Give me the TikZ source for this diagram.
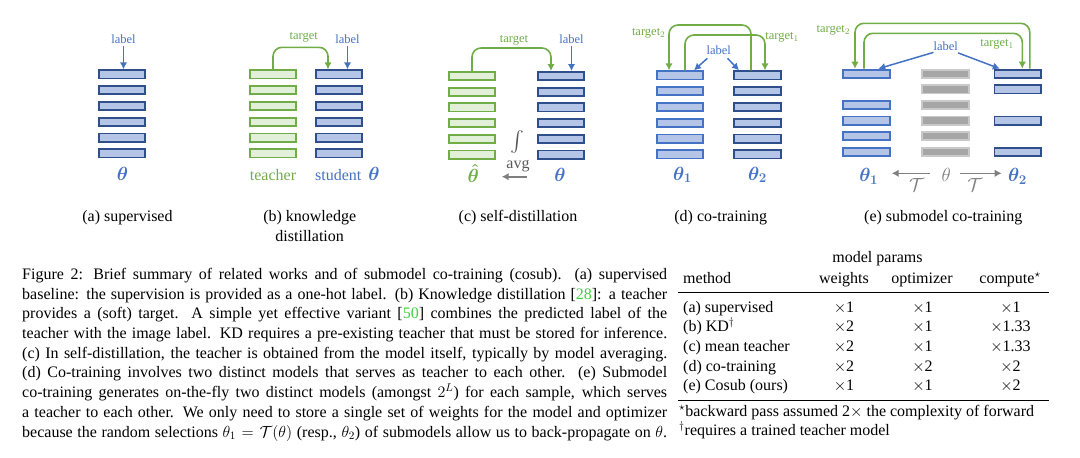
\RequirePackage{fix-cm}
\documentclass[tikz,border=0pt]{standalone}
\usepackage{amsmath}
\usepackage{fontspec}
\setmainfont{Liberation Serif}
\usetikzlibrary{arrows.meta}
\definecolor{bfill}{HTML}{B4C5E8}
\definecolor{navy}{HTML}{2F4E8C}
\definecolor{mblue}{HTML}{4472C4}
\definecolor{gline}{HTML}{70AD47}
\definecolor{gfill}{HTML}{E2F0D9}
\definecolor{grayf}{HTML}{A6A6A6}
\definecolor{grayb}{HTML}{C9C9C9}
\definecolor{garrow}{HTML}{7F7F7F}
\definecolor{dgray}{HTML}{595959}
\definecolor{citeg}{HTML}{3DD13D}
\begin{document}
\begin{tikzpicture}[x=1pt,y=-1pt,
  lay/.style={rectangle,minimum width=46.7pt,minimum height=8.2pt,inner sep=0pt,line width=1.8pt},
  navylay/.style={lay,draw=navy,fill=bfill},
  bluelay/.style={lay,draw=mblue,fill=bfill},
  greenlay/.style={lay,draw=gline,fill=gfill},
  graylay/.style={lay,draw=grayb,fill=grayf},
  arrtip/.style={-{Latex[length=7pt,width=7.5pt]}},
  barr/.style={arrtip,line width=1.5pt,draw=mblue},
  garr/.style={arrtip,line width=1.6pt,draw=gline,rounded corners=9pt},
  grarr/.style={arrtip,line width=1.6pt,draw=garrow},
  smalltxt/.style={inner sep=0pt,font=\fontsize{12.5}{14}\selectfont},
  lbl/.style={smalltxt,text=mblue},
  tgt/.style={smalltxt,text=gline},
  bigmath/.style={inner sep=0pt,font=\fontsize{19}{22}\selectfont},
  bodytxt/.style={inner sep=0pt,font=\fontsize{16}{19.7}\selectfont},
]
\useasboundingbox (0,0) rectangle (1080,458);

% ---------- (a) supervised
\foreach \k in {0,...,5} \node[navylay] (a\k) at (122,{74.3+15.8*\k}) {};
\node[lbl,anchor=base] (al) at (123.5,43) {label};
\draw[barr] ([yshift=-2.5pt]al.south) -- (al.south |- a0.north);
\node[bigmath,text=mblue,anchor=base] (ath) at (122.5,180) {$\boldsymbol{\theta}$};
\node[bodytxt,anchor=base] (acap) at (127.5,221.5) {(a) supervised};

% ---------- (b) knowledge distillation
\foreach \k in {0,...,5} {
  \node[greenlay] (bt\k) at (273,{74.3+15.8*\k}) {};
  \node[navylay] (bs\k) at (339,{74.3+15.8*\k}) {};
}
\draw[garr] (bt0.north) -- ++(0,-22) -| ([xshift=-11pt]bs0.north);
\node[tgt,anchor=base] (btg) at (303.7,39.6) {target};
\node[lbl,anchor=base] (bl) at (347.5,43) {label};
\draw[barr] ([yshift=-2.5pt]bl.south) -- (bl.south |- bs0.north);
\node[bodytxt,text=gline,anchor=base] (bteach) at (273,180) {teacher};
\node[bodytxt,text=mblue,anchor=base] (bstud) at (338.3,180) {student};
\node[bigmath,text=mblue,anchor=base] (bth) at (374,180) {$\boldsymbol{\theta}$};
\node[bodytxt,anchor=base] (bcap1) at (309.7,221.5) {(b) knowledge};
\node[bodytxt,anchor=base] (bcap2) at (309.7,241) {distillation};

% ---------- (c) self-distillation
\foreach \k in {0,...,5} {
  \node[greenlay] (ct\k) at (472,{76+15.7*\k}) {};
  \node[navylay] (cs\k) at (561,{76+15.7*\k}) {};
}
\draw[garr] (ct0.north) -- ++(0,-23) -| ([xshift=-10pt]cs0.north);
\node[tgt,anchor=base] (ctg) at (514,42.2) {target};
\node[lbl,anchor=base] (cl) at (571.5,43) {label};
\draw[barr] ([yshift=-2.5pt]cl.south) -- (cl.south |- cs0.north);
\node[inner sep=0pt,text=dgray,font=\fontsize{21}{24}\selectfont] (cint) at (517,142.5) {$\int$};
\node[bodytxt,text=dgray,anchor=base] (cavg) at (518,168) {avg};
\node[bigmath,text=gline,anchor=base] (cthh) at (473.3,182) {$\boldsymbol{\hat{\theta}}$};
\node[bigmath,text=mblue,anchor=base] (cth) at (560,181) {$\boldsymbol{\theta}$};
\coordinate (cA) at (527,176.7);
\coordinate (cB) at (501.7,176.7);
\draw[grarr] (cA) -- (cB);
\node[bodytxt,anchor=base] (ccap) at (518,221.5) {(c) self-distillation};

% ---------- (d) co-training
\foreach \k in {0,...,5} {
  \node[bluelay] (d1r\k) at (680,{75.3+15.8*\k}) {};
  \node[navylay] (d2r\k) at (757.5,{75.3+15.8*\k}) {};
}
\draw[garr] ([xshift=-6.5pt]d2r0.north) -- ++(0,-45.3) -| ([xshift=-11pt]d1r0.north);
\draw[garr] ([xshift=5pt]d1r0.north) -- ++(0,-35.3) -| ([xshift=7.5pt]d2r0.north);
\node[tgt,anchor=base] (dt2) at (648.7,35.2) {target$_2$};
\node[tgt,anchor=base] (dt1) at (782,39.6) {target$_1$};
\node[lbl,anchor=base] (dl) at (718.7,54.6) {label};
\draw[barr] ([shift={(1pt,-3.4pt)}]dl.south west) -- ([xshift=14pt]d1r0.north);
\draw[barr] ([shift={(-3.5pt,-3.4pt)}]dl.south east) -- ([xshift=-18.5pt]d2r0.north);
\node[bigmath,text=mblue,anchor=base] (dth1) at (682.5,180) {$\boldsymbol{\theta_1}$};
\node[bigmath,text=mblue,anchor=base] (dth2) at (757.5,180) {$\boldsymbol{\theta_2}$};
\node[bodytxt,anchor=base] (dcap) at (720.8,221) {(d) co-training};

% ---------- (e) submodel co-training
\foreach \k in {0,2,3,4,5} \node[bluelay] (e1r\k) at (866.3,{73.7+15.6*\k}) {};
\foreach \k in {0,...,5} \node[graylay] (egr\k) at (945.3,{73.7+15.6*\k}) {};
\foreach \k in {0,1,3,5} \node[navylay] (e2r\k) at (1017.8,{73.7+15.6*\k}) {};
\draw[garr] ([xshift=12pt]e2r0.north) -- ++(0,-45.4) -| ([xshift=-11.3pt]e1r0.north);
\draw[garr] ([xshift=-2.3pt]e1r0.north) -- ++(0,-35.4) -| ([xshift=4.5pt]e2r0.north);
\node[tgt,anchor=base] (et2) at (833.3,32.2) {target$_2$};
\node[tgt,anchor=base] (et1) at (997,46.2) {target$_1$};
\node[lbl,anchor=base] (el) at (945.8,50.6) {label};
\draw[barr] ([yshift=-1.5pt]el.south west) -- ([xshift=12pt]e1r0.north);
\draw[barr] ([yshift=-2pt]el.south east) -- ([xshift=-18pt]e2r0.north);
\node[bigmath,text=mblue,anchor=base] (eth1) at (868.8,181.7) {$\boldsymbol{\theta_1}$};
\node[bigmath,text=garrow,anchor=base] (eth) at (946.3,181.7) {$\theta$};
\node[bigmath,text=mblue,anchor=base] (eth2) at (1017.5,181.7) {$\boldsymbol{\theta_2}$};
\coordinate (eL1) at (930,173.3);
\coordinate (eL2) at (891.7,173.3);
\coordinate (eR1) at (960,173.3);
\coordinate (eR2) at (1001.7,173.3);
\draw[grarr] (eL1) -- (eL2);
\draw[grarr] (eR1) -- (eR2);
\node[bigmath,text=garrow,anchor=base] (eT1) at (916.7,191.7) {$\mathcal{T}$};
\node[bigmath,text=garrow,anchor=base] (eT2) at (975,191.7) {$\mathcal{T}$};
\node[bodytxt,anchor=base] (ecap) at (943.3,221) {(e) submodel co-training};

% ---------- figure caption
\node[bodytxt,anchor=north west,align=left] (figcap) at (22,268) {%
\makebox[645pt][s]{Figure 2: Brief summary of related works and of submodel co-training (cosub). (a) supervised}\\
\makebox[645pt][s]{baseline: the supervision is provided as a one-hot label. (b) Knowledge distillation [\textcolor{citeg}{28}]: a teacher}\\
\makebox[645pt][s]{provides a (soft) target. A simple yet effective variant [\textcolor{citeg}{50}] combines the predicted label of the}\\
\makebox[645pt][s]{teacher with the image label. KD requires a pre-existing teacher that must be stored for inference.}\\
\makebox[645pt][s]{(c) In self-distillation, the teacher is obtained from the model itself, typically by model averaging.}\\
\makebox[645pt][s]{(d) Co-training involves two distinct models that serves as teacher to each other. (e) Submodel}\\
\makebox[645pt][s]{co-training generates on-the-fly two distinct models (amongst $2^L$) for each sample, which serves}\\
\makebox[645pt][s]{a teacher to each other. We only need to store a single set of weights for the model and optimizer}\\
\makebox[645pt][s]{because the random selections $\theta_1 = \mathcal{T}(\theta)$ (resp., $\theta_2$) of submodels allow us to back-propagate on $\theta$.}};

% ---------- table
\node[bodytxt,anchor=base] (mp) at (877.5,262.5) {model params};
\node[bodytxt,anchor=base west] (hm) at (683,283) {method};
\node[bodytxt,anchor=base] (hw) at (844,283) {weights};
\node[bodytxt,anchor=base] (ho) at (922,283) {optimizer};
\node[bodytxt,anchor=base] (hc) at (1010,283) {compute$^\star$};
\coordinate (r1a) at (678,292.3);
\coordinate (r1b) at (1049,292.3);
\coordinate (r2a) at (678,400.7);
\coordinate (r2b) at (1049,400.7);
\draw[line width=1.3pt] (r1a) -- (r1b);
\draw[line width=1.3pt] (r2a) -- (r2b);
\foreach \m/\w/\o/\c [count=\i from 0] in {{(a) supervised}/1/1/1,{(b) KD$^\dagger$}/2/1/1.33,{(c) mean teacher}/2/1/1.33,{(d) co-training}/2/2/2,{(e) Cosub (ours)}/1/1/2} {
  \pgfmathsetmacro\yy{312+19.7*\i}
  \node[bodytxt,anchor=base west] (tm\i) at (683,\yy) {\m};
  \node[bodytxt,anchor=base] (tw\i) at (844,\yy) {$\times$\w};
  \node[bodytxt,anchor=base] (to\i) at (922.5,\yy) {$\times$\o};
  \node[bodytxt,anchor=base] (tc\i) at (1010.5,\yy) {$\times$\c};
}
\node[bodytxt,anchor=base west] (fn1) at (679,416.5) {$^\star$backward pass assumed 2$\times$ the complexity of forward};
\node[bodytxt,anchor=base west] (fn2) at (679,435) {$^\dagger$requires a trained teacher model};
\end{tikzpicture}
\end{document}
